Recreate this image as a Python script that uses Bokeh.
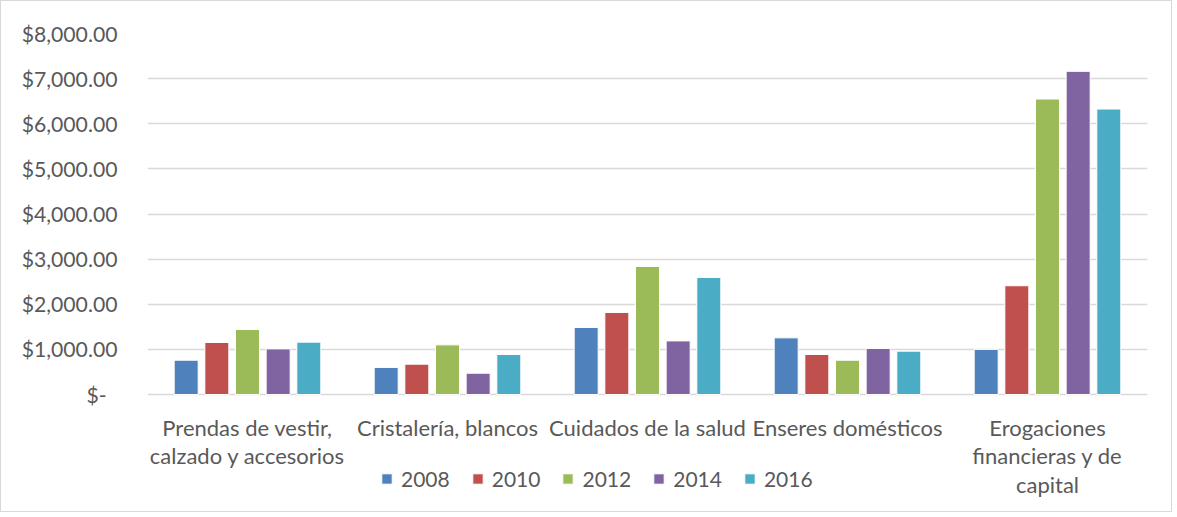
from bokeh.plotting import figure
from bokeh.models import Legend, LegendItem, FixedTicker, ColumnDataSource
from bokeh.core.properties import value
from bokeh.embed import file_html
from bokeh.resources import INLINE

categories = ["Prendas de vestir,\ncalzado y accesorios", "Cristalería, blancos",
              "Cuidados de la salud", "Enseres domésticos",
              "Erogaciones\nfinancieras y de\ncapital"]
years = ["2008", "2010", "2012", "2014", "2016"]
v2008 = [760, 600, 1486, 1255, 1000]
v2010 = [1153, 672, 1818, 887, 2410]
v2012 = [1441, 1100, 2838, 760, 6548]
v2014 = [1011, 472, 1188, 1020, 7162]
v2016 = [1160, 887, 2594, 960, 6326]
series = [v2008, v2010, v2012, v2014, v2016]
colors = ["#4F81BD", "#C0504D", "#9BBB59", "#8064A2", "#4BACC6"]
y_ticks = [0, 1000, 2000, 3000, 4000, 5000, 6000, 7000, 8000]
y_tick_labels = ["$-\u00a0\u00a0", "$1,000.00", "$2,000.00", "$3,000.00", "$4,000.00",
                 "$5,000.00", "$6,000.00", "$7,000.00", "$8,000.00"]

FONT = "Lato"
TXT = "#595959"

# layout (pixels)
W, H = 1172, 512
MB_L, MB_T, MB_R, MB_B = 146, 32, 26, 4
FRAME_H = H - MB_T - MB_B
DATA_H = 361                      # pixels from 0 to 8000
YMAX = 8000
per_px = YMAX / DATA_H
y_start = -(FRAME_H - DATA_H) * per_px

p = figure(width=W, height=H, x_range=(0, 5), y_range=(y_start, YMAX),
           output_backend="svg", toolbar_location=None,
           min_border_left=MB_L, min_border_right=MB_R, min_border_top=MB_T,
           min_border_bottom=MB_B)
p.styles = {"border": "1px solid #D9D9D9"}
p.outline_line_color = None
p.background_fill_color = "white"

step = 0.1533
bw = 0.12
items = []
for j, yr in enumerate(years):
    xs = [i + 0.5 + (j - 2) * step for i in range(len(categories))]
    src = ColumnDataSource(dict(x=xs, top=series[j]))
    r = p.vbar(x="x", top="top", bottom=0, width=bw, source=src,
               fill_color=colors[j], line_color="white", line_width=1)
    items.append(LegendItem(label=yr, renderers=[r]))

# category labels under the baseline
lab = ColumnDataSource(dict(x=[i + 0.5 for i in range(len(categories))],
                            y=[-19 * per_px] * len(categories),
                            t=categories))
p.text(x="x", y="y", text="t", source=lab, text_font=value(FONT),
       text_font_size="22px", text_color=TXT, text_align="center",
       text_baseline="top", text_line_height=1.06)

legend = Legend(items=items, orientation="horizontal", location=(233, 18),
                label_text_font=FONT, label_text_font_size="21px",
                label_text_color=TXT, glyph_width=13, glyph_height=13,
                label_standoff=8, spacing=21, padding=0, margin=0,
                border_line_color=None, background_fill_alpha=0)
p.add_layout(legend, "center")

# y axis
p.yaxis.ticker = FixedTicker(ticks=y_ticks)
p.yaxis.major_label_overrides = {t: l for t, l in zip(y_ticks, y_tick_labels)}
p.yaxis.axis_line_color = None
p.yaxis.major_tick_line_color = None
p.yaxis.minor_tick_line_color = None
p.yaxis.major_label_text_font = FONT
p.yaxis.major_label_text_font_size = "21.2px"
p.yaxis.major_label_text_color = TXT
p.yaxis.major_label_standoff = 24

p.xaxis.visible = False
p.xgrid.grid_line_color = None
p.ygrid.ticker = FixedTicker(ticks=y_ticks)
p.ygrid.grid_line_color = "#D9D9D9"
p.ygrid.grid_line_width = 1.5

open("out.html", "w").write(file_html(p, INLINE))
